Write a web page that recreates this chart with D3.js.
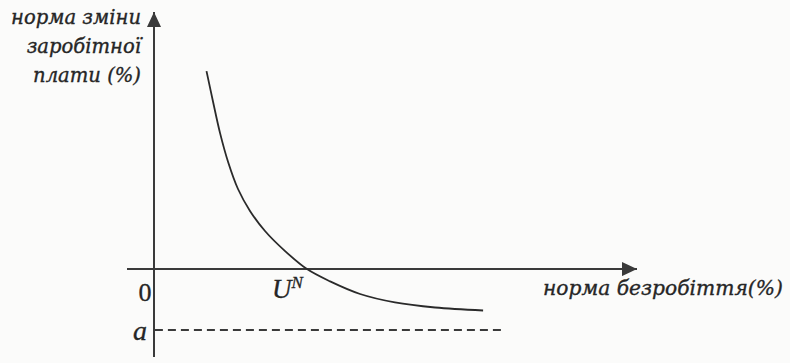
<!DOCTYPE html>
<html>
<head>
<meta charset="utf-8">
<script src="https://cdn.jsdelivr.net/npm/d3@7"></script>
<style>
  html, body { margin: 0; padding: 0; background: #fbfbfa; }
  svg { display: block; }
  .lbl { font-family: "DejaVu Serif", "Liberation Serif", serif; font-style: italic;
         fill: #262626; stroke: #262626; stroke-width: 0.35; }
  .sym { font-family: "Liberation Serif", serif; fill: #262626; stroke: #262626; stroke-width: 0.3; }
</style>
</head>
<body>
<svg id="chart" width="790" height="363"></svg>
<script>
// Phillips curve: unemployment rate (x) vs. rate of wage change (y)
const unemployment = [1.75, 1.97, 2.2, 2.47, 2.8, 3.2, 3.7, 4.37, 5.1, 5.87, 6.87, 8.03, 9.37, 10.97];
const wageChange   = [6.6, 5.57, 4.54, 3.57, 2.67, 1.94, 1.27, 0.6, 0.0, -0.41, -0.83, -1.11, -1.28, -1.38];

const naturalRate = 5.1;   // U^N, where the curve crosses the x axis
const floorLevel = -2.03;  // a, the lower asymptote
const floorSpan = [0.03, 11.6];

const yLabelLines = ["норма зміни", "заробітної", "плати (%)"];
const xLabel = "норма безробіття(%)";

const svg = d3.select("#chart");

const x = d3.scaleLinear().domain([-0.9, 16.1]).range([127, 637]);
const y = d3.scaleLinear().domain([-2.93, 8.57]).range([357, 12]);

const ink = "#3a3a3a";

// shrink or grow a text node's font so it spans the wanted width
function fitWidth(sel, width) {
  const fs = parseFloat(sel.attr("font-size"));
  const len = sel.node().getComputedTextLength();
  const s = fs * width / len;
  sel.attr("font-size", s);
  return s;
}

// arrowheads
svg.append("defs").append("marker")
  .attr("id", "arrow").attr("viewBox", "0 0 15 14")
  .attr("refX", 15).attr("refY", 7)
  .attr("markerWidth", 15).attr("markerHeight", 14)
  .attr("markerUnits", "userSpaceOnUse")
  .attr("orient", "auto")
  .append("path").attr("d", "M0,0 L15,7 L0,14 Z").attr("fill", ink);

// axes
svg.append("line")
  .attr("x1", x(-0.9)).attr("x2", x(16.1))
  .attr("y1", y(0)).attr("y2", y(0))
  .attr("stroke", ink).attr("stroke-width", 2)
  .attr("marker-end", "url(#arrow)");
svg.append("line")
  .attr("x1", x(0)).attr("x2", x(0))
  .attr("y1", y(-2.93)).attr("y2", y(8.57))
  .attr("stroke", ink).attr("stroke-width", 2)
  .attr("marker-end", "url(#arrow)");

// dashed floor line a
svg.append("line")
  .attr("x1", x(floorSpan[0])).attr("x2", x(floorSpan[1]))
  .attr("y1", y(floorLevel)).attr("y2", y(floorLevel))
  .attr("stroke", ink).attr("stroke-width", 2)
  .attr("stroke-dasharray", "8,5");

// the curve
const pts = unemployment.map((u, i) => [u, wageChange[i]]);
const line = d3.line().x(d => x(d[0])).y(d => y(d[1])).curve(d3.curveCatmullRom.alpha(0.5));
svg.append("path")
  .datum(pts)
  .attr("d", line)
  .attr("fill", "none")
  .attr("stroke", "#2a2a2a")
  .attr("stroke-width", 1.8);

// y axis title, right aligned next to the axis
const yTexts = yLabelLines.map((t, i) =>
  svg.append("text").attr("class", "lbl")
    .attr("x", 141).attr("y", 24 + i * 29)
    .attr("text-anchor", "end")
    .attr("font-size", 20)
    .text(t));
const ys = fitWidth(yTexts[0], 130);
yTexts.forEach(t => t.attr("font-size", ys));

// x axis title
const xt = svg.append("text").attr("class", "lbl")
  .attr("x", 543).attr("y", 295)
  .attr("font-size", 20)
  .text(xLabel);
fitWidth(xt, 240);

// origin, U^N and a
svg.append("text").attr("class", "sym")
  .attr("x", x(0) - 9).attr("y", y(0) + 32)
  .attr("text-anchor", "middle")
  .attr("font-size", 26)
  .text("0");

const un = svg.append("text").attr("class", "sym")
  .attr("font-style", "italic")
  .attr("x", x(naturalRate) - 35).attr("y", y(0) + 29)
  .attr("font-size", 27);
un.append("tspan").text("U");
un.append("tspan").attr("font-size", 17).attr("dy", -10).text("N");

svg.append("text").attr("class", "sym")
  .attr("font-style", "italic")
  .attr("x", x(0) - 14).attr("y", y(floorLevel) + 10)
  .attr("text-anchor", "middle")
  .attr("font-size", 28)
  .text("a");
</script>
</body>
</html>
